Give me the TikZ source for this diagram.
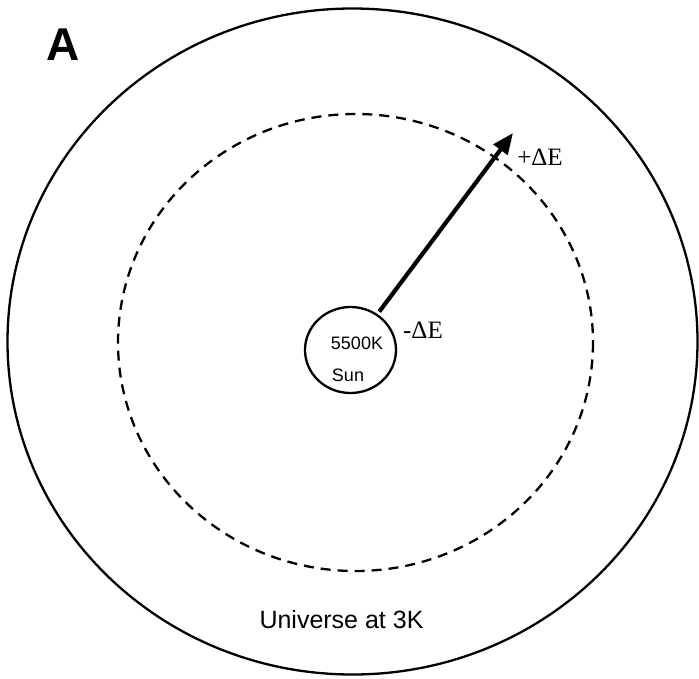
\documentclass[tikz,border=0pt]{standalone}
\usepackage{fontspec}
\setmainfont{Liberation Serif}
\setsansfont{Liberation Sans}
\usetikzlibrary{arrows.meta,shapes.geometric}
\tikzset{
  ring/.style={draw=black, line width=2.3pt},
  dashring/.style={draw=black, line width=2.3pt, dash pattern=on 10pt off 7pt},
  sunbox/.style={ellipse, draw=black, line width=2.3pt, minimum width=91pt, minimum height=86pt, inner sep=0pt},
  sanslabel/.style={font=\sffamily\fontsize{#1}{#1}\selectfont, inner sep=0pt, anchor=center},
  seriflabel/.style={font=\rmfamily\fontsize{25}{25}\selectfont, inner sep=0pt},
  flux/.style={line width=4.2pt, -{Triangle[length=21pt,width=17pt]}}
}
\begin{document}
\begin{tikzpicture}[x=1pt,y=-1pt]
\useasboundingbox (0,0) rectangle (699,678);
\fill[white] (0,0) rectangle (699,678);
% outer universe
\draw[ring] (352.5,341.5) ellipse [x radius=345, y radius=333];
% dashed orbit
\draw[dashring] (355.5,342.5) ellipse [x radius=237.5, y radius=228.5];
% sun
\node[sunbox] (sun) at (350.5,350) {};
\node[sanslabel=18] (temp) at (357,343) {5500K};
\node[sanslabel=18] (sunname) at (348,375) {Sun};
% arrow
\coordinate (tip) at (513,133);
\draw[flux, shorten <=3pt] (sun) -- (tip);
% labels
\node[seriflabel] (minus) at (423,330) {-ΔE};
\node[seriflabel] (plus) at (540,157) {+ΔE};
\node[sanslabel=25] (univ) at (341.5,620) {Universe at 3K};
\node[font=\sffamily\bfseries\fontsize{46}{46}\selectfont, inner sep=0pt] (lab) at (63,44.5) {A};
\end{tikzpicture}
\end{document}
